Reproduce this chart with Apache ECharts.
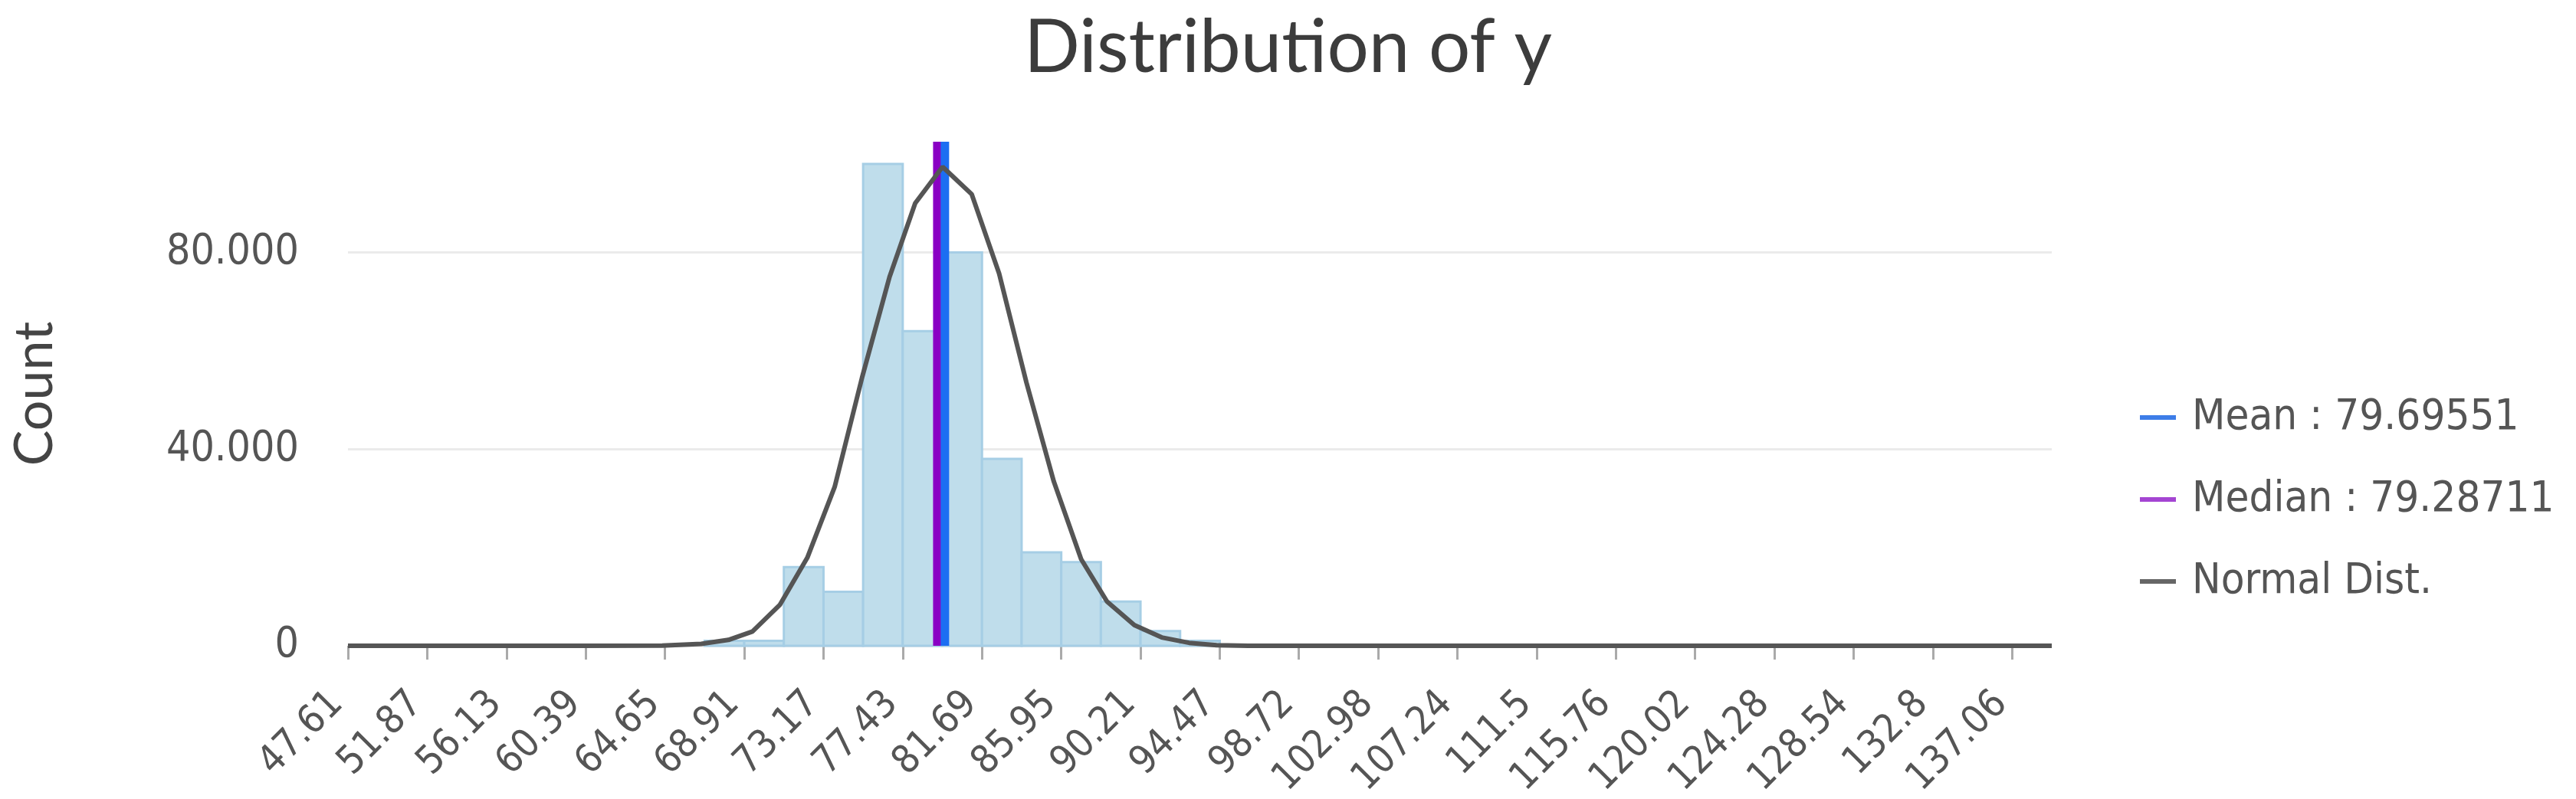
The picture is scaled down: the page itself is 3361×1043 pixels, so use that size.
<!DOCTYPE html>
<html>
<head>
<meta charset="utf-8">
<script src="https://cdn.jsdelivr.net/npm/echarts@6/dist/echarts.min.js"></script>
<style>
html,body{margin:0;padding:0;background:#fff;}
#chart{width:3361px;height:1043px;}
</style>
</head>
<body>
<div id="chart"></div>
<script>
// ---- data ----
const xTickLabels = ['47.61','51.87','56.13','60.39','64.65','68.91','73.17','77.43','81.69','85.95','90.21','94.47','98.72','102.98','107.24','111.5','115.76','120.02','124.28','128.54','132.8','137.06'];
const xMin = 47.61;
const xMax = 139.19;
const binWidth = 2.13;
const binStarts = [66.78, 68.91, 71.04, 73.17, 75.30, 77.43, 79.56, 81.69, 83.82, 85.95, 88.08, 90.21, 92.34];
const binCounts = [1, 1, 16, 11, 98, 64, 80, 38, 19, 17, 9, 3, 1];
const curveX = [47.61, 60.0, 64.5, 66.6, 68.06, 69.35, 70.82, 72.30, 73.77, 75.24, 76.72, 78.10, 79.57, 81.14, 82.61, 84.08, 85.55, 87.02, 88.41, 89.88, 91.35, 92.82, 94.3, 96.0, 139.19];
const curveY = [0, 0, 0.05, 0.4, 1.2, 2.9, 8.3, 17.9, 32.3, 54.5, 75.0, 90.0, 97.4, 91.8, 75.7, 53.5, 33.4, 17.6, 9.0, 4.2, 1.7, 0.6, 0.1, 0, 0];
const meanValue = 79.69551;
const medianValue = 79.28711;
const yMax = 102.5;
const yTicks = [0, 40, 80];

const condFont = "'DejaVu Sans Condensed', 'Liberation Sans Narrow', 'DejaVu Sans', sans-serif";

const chart = echarts.init(document.getElementById('chart'), null, {renderer: 'canvas'});

const histData = binStarts.map((s, i) => [s, binCounts[i]]);
const curveData = curveX.map((x, i) => [x, curveY[i]]);
const meanName = 'Mean : ' + meanValue.toFixed(5);
const medianName = 'Median : ' + medianValue.toFixed(5);

const option = {
  animation: false,
  backgroundColor: '#ffffff',
  title: {
    text: 'Distribution of y',
    left: 'center',
    top: 10,
    textStyle: {fontFamily: 'Lato', fontSize: 96, fontWeight: 'normal', color: '#3c3c3c'}
  },
  legend: {
    orient: 'vertical',
    left: 2787,
    top: 510,
    itemWidth: 47,
    itemHeight: 6,
    itemGap: 47,
    icon: 'rect',
    data: [meanName, medianName, 'Normal Dist.'],
    formatter: n => ' ' + n,
    textStyle: {fontFamily: condFont, fontSize: 56, lineHeight: 60, color: '#555555'}
  },
  grid: {left: 454, right: 684, top: 185, bottom: 200, containLabel: false, outerBoundsMode: 'none'},
  xAxis: {
    type: 'value',
    min: xMin,
    max: xMax,
    axisLine: {show: false},
    axisTick: {show: true, length: 18, customValues: xTickLabels.map(Number), lineStyle: {color: '#aaaaaa', width: 3}},
    axisLabel: {
      show: true,
      customValues: xTickLabels.map(Number),
      rotate: 45,
      margin: 54,
      padding: [0, 20, 0, 0],
      fontFamily: condFont,
      fontSize: 51,
      color: '#555555',
      formatter: v => {
        const idx = xTickLabels.map(Number).findIndex(t => Math.abs(t - v) < 1e-6);
        return idx >= 0 ? xTickLabels[idx] : '';
      }
    },
    splitLine: {show: false}
  },
  yAxis: {
    type: 'value',
    min: 0,
    max: yMax,
    interval: 40,
    name: 'Count',
    nameLocation: 'middle',
    nameRotate: 90,
    nameGap: 374,
    nameTextStyle: {fontFamily: 'Lato', fontSize: 70, color: '#444444'},
    axisLine: {show: false},
    axisTick: {show: false},
    axisLabel: {
      margin: 64,
      fontFamily: condFont,
      fontSize: 55,
      color: '#555555',
      showMaxLabel: false,
      formatter: v => (yTicks.indexOf(v) < 0 ? '' : (v === 0 ? '0' : v.toFixed(3)))
    },
    splitLine: {show: true, showMaxLine: false, lineStyle: {color: '#ebebeb', width: 3}}
  },
  series: [
    {
      name: 'Count',
      type: 'custom',
      z: 1,
      encode: {x: 0, y: 1},
      data: histData,
      renderItem: (params, api) => {
        const s = api.value(0);
        const c = api.value(1);
        const p0 = api.coord([s, c]);
        const p1 = api.coord([s + binWidth, 0]);
        return {
          type: 'rect',
          shape: {x: p0[0], y: p0[1], width: p1[0] - p0[0], height: p1[1] - p0[1]},
          style: {fill: '#bfddeb', stroke: '#a6cee5', lineWidth: 3}
        };
      }
    },
    {
      name: medianName,
      type: 'line',
      z: 2,
      symbol: 'none',
      color: '#8a00c4',
      lineStyle: {color: '#8a00c4', width: 11},
      itemStyle: {color: '#a445d2'},
      data: [[medianValue, 0], [medianValue, yMax]]
    },
    {
      name: meanName,
      type: 'line',
      z: 3,
      symbol: 'none',
      color: '#1c6ef2',
      lineStyle: {color: '#1c6ef2', width: 11},
      itemStyle: {color: '#3d7de8'},
      data: [[meanValue, 0], [meanValue, yMax]]
    },
    {
      name: 'Normal Dist.',
      type: 'line',
      z: 4,
      symbol: 'none',
      smooth: false,
      color: '#555555',
      lineStyle: {color: '#555555', width: 6},
      itemStyle: {color: '#666666'},
      data: curveData
    }
  ]
};
chart.setOption(option);
</script>
</body>
</html>
